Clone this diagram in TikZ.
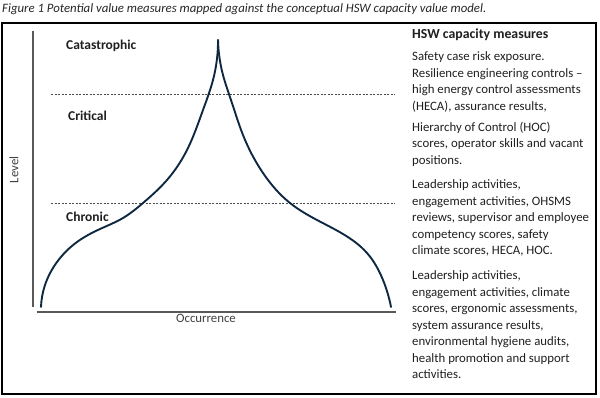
\documentclass[tikz,border=0pt]{standalone}
\usepackage{fontspec}
\setmainfont{Carlito}
\usetikzlibrary{hobby, positioning}
\definecolor{curveblue}{HTML}{0E2841}
\def\Wth{1.9pt}
\def\ClrCurve{curveblue}
\def\ClrAxis{black!65}
\def\ClrText{black!88}
\tikzset{
    axis line/.style={
        draw=\ClrAxis, line width=1.3pt
    },
    level band/.style={
        draw=black!70, line width=0.5pt, dash pattern=on 2pt off 1.5pt
    },
    band label/.style={
        font=\fontsize{13.5}{15}\selectfont\bfseries, text=\ClrText,
        anchor=west, inner sep=0pt
    },
    axis label/.style={
        font=\fontsize{12.8}{15}\selectfont, text=black!75, inner sep=0pt
    },
    measure text/.style={
        font=\fontsize{12.8}{16.5}\selectfont, text=\ClrText,
        align=left, anchor=north west, inner sep=0pt
    }
}
\begin{document}
\begin{tikzpicture}[x=1pt, y=-1pt, use Hobby shortcut]
    \useasboundingbox (0,0) rectangle (600,397);
    \node[anchor=west, inner sep=0pt, text=black!85,
          font=\fontsize{12.8}{15}\selectfont\itshape] (caption) at (2,9)
        {Figure 1 Potential value measures mapped against the conceptual HSW capacity value model.};
    \draw[black, line width=1.1pt] (2,23) rectangle (596,394);

    % axes
    \coordinate (Ytop) at (33,31);
    \coordinate (Ybot) at (33,307);
    \coordinate (Xl) at (37,312);
    \coordinate (Xr) at (396,312);
    \draw[axis line] (Ytop) -- (Ybot);
    \draw[axis line] (Xl) -- (Xr);
    \node[axis label, rotate=90] (level) at (14,170) {Level};
    \node[axis label] (occ) at (206,318) {Occurrence};

    % bands
    \coordinate (B1l) at (51,94);
    \coordinate (B1r) at (395,94);
    \coordinate (B2l) at (51,203);
    \coordinate (B2r) at (395,203);
    \draw[level band] (B1l) -- (B1r);
    \draw[level band] (B2l) -- (B2r);
    \node[band label] (cat) at (66,46) {Catastrophic};
    \node[band label] (crit) at (68,116) {Critical};
    \node[band label] (chron) at (66,217) {Chronic};

    % curve points, left flank
    \coordinate (L1) at (41,307);
    \coordinate (L2) at (45,285);
    \coordinate (L3) at (57,262);
    \coordinate (L4) at (77,242);
    \coordinate (L5) at (100,229);
    \coordinate (L6) at (123,218);
    \coordinate (L7) at (143,203);
    \coordinate (L8) at (167,180);
    \coordinate (L9) at (187,150);
    \coordinate (L10) at (203,110);
    \coordinate (L11) at (213,80);
    \coordinate (Pk) at (218,40);
    % right flank
    \coordinate (R1) at (223,75);
    \coordinate (R2) at (231,100);
    \coordinate (R3) at (243,135);
    \coordinate (R4) at (263,173);
    \coordinate (R5) at (290,203);
    \coordinate (R6) at (317,220);
    \coordinate (R7) at (343,234);
    \coordinate (R8) at (367,253);
    \coordinate (R9) at (383,280);
    \coordinate (R10) at (391,307);
    \draw[draw=\ClrCurve, line width=\Wth, line cap=round]
        (L1)..(L2)..(L3)..(L4)..(L5)..(L6)..(L7)..(L8)..(L9)..(L10)..(L11)..(Pk);
    \draw[draw=\ClrCurve, line width=\Wth, line cap=round]
        (Pk)..(R1)..(R2)..(R3)..(R4)..(R5)..(R6)..(R7)..(R8)..(R9)..(R10);

    % measures column
    \node[band label, font=\fontsize{13.8}{15}\selectfont\bfseries] (head) at (412,35) {HSW capacity measures};
    \node[measure text] (m1) at (412,51.5)
        {Safety case risk exposure.\\Resilience engineering controls –\\high energy control assessments\\(HECA), assurance results,};
    \node[measure text] (m2) at (412,121.5)
        {Hierarchy of Control (HOC)\\scores, operator skills and vacant\\positions.};
    \node[measure text] (m3) at (412,179.5)
        {Leadership activities,\\engagement activities, OHSMS\\reviews, supervisor and employee\\competency scores, safety\\climate scores, HECA, HOC.};
    \node[measure text] (m4) at (412,270.5)
        {Leadership activities,\\engagement activities, climate\\scores, ergonomic assessments,\\system assurance results,\\environmental hygiene audits,\\health promotion and support\\activities.};
\end{tikzpicture}
\end{document}
